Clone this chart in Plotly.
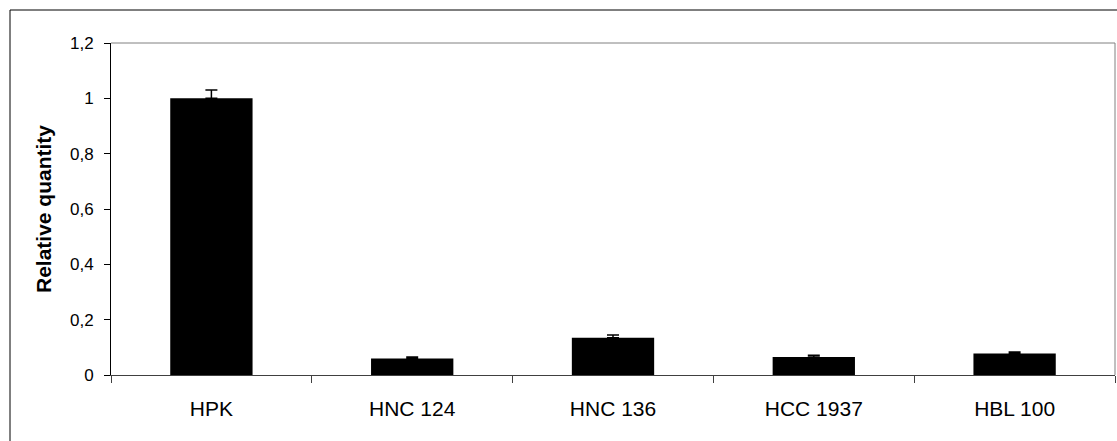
import plotly.graph_objects as go

# Relative quantity per cell line, with upper error
cell_lines = ["HPK", "HNC 124", "HNC 136", "HCC 1937", "HBL 100"]
rel_quantity = [1.0, 0.060, 0.135, 0.065, 0.078]
err_upper = [0.03, 0.005, 0.010, 0.006, 0.005]
y_ticks = [0, 0.2, 0.4, 0.6, 0.8, 1.0, 1.2]

W, H = 1117, 441
L, R, T, B = 111, 2, 43, 66
pw, ph = W - L - R, H - T - B

fig = go.Figure(
    go.Bar(
        x=cell_lines,
        y=rel_quantity,
        width=0.41,
        marker=dict(color="black", line=dict(width=0)),
        error_y=dict(
            type="data",
            symmetric=False,
            array=err_upper,
            arrayminus=[0] * len(err_upper),
            color="black",
            thickness=1.5,
            width=6,
        ),
    )
)

# outer frame of the chart area (runs past the right/bottom edge)
fx = -(L - 10) / pw
fy = 1 + (T - 10) / ph
shapes = [
    dict(type="line", xref="paper", yref="paper", x0=fx, x1=1.05, y0=fy, y1=fy,
         line=dict(color="black", width=1)),
    dict(type="line", xref="paper", yref="paper", x0=fx, x1=fx, y0=fy, y1=-0.5,
         line=dict(color="black", width=1)),
    # plot area: grey top and right edges
    dict(type="line", xref="paper", yref="paper", x0=0, x1=1, y0=1, y1=1,
         line=dict(color="#808080", width=1)),
    dict(type="line", xref="paper", yref="paper", x0=1, x1=1, y0=0, y1=1,
         line=dict(color="#808080", width=1)),
]

fig.update_layout(
    width=W,
    height=H,
    margin=dict(l=L, r=R, t=T, b=B),
    paper_bgcolor="white",
    plot_bgcolor="white",
    separators=", ",
    showlegend=False,
    shapes=shapes,
    font=dict(family="Liberation Sans, Arial, sans-serif", color="black"),
    xaxis=dict(
        type="category",
        showline=True,
        linecolor="#404040",
        linewidth=1,
        showgrid=False,
        ticks="outside",
        tickson="boundaries",
        ticklen=7,
        tickcolor="#404040",
        tickfont=dict(size=21),
        ticklabelstandoff=15,
        range=[-0.5, 4.5],
    ),
    yaxis=dict(
        range=[0, 1.2],
        tickvals=y_ticks,
        showline=True,
        linecolor="black",
        linewidth=1,
        showgrid=False,
        zeroline=False,
        ticks="outside",
        ticklen=6,
        tickcolor="black",
        tickfont=dict(size=17),
        ticklabelstandoff=7,
        title=dict(text="<b>Relative quantity</b>", font=dict(size=21), standoff=12),
    ),
)

fig.write_html("out.html")
